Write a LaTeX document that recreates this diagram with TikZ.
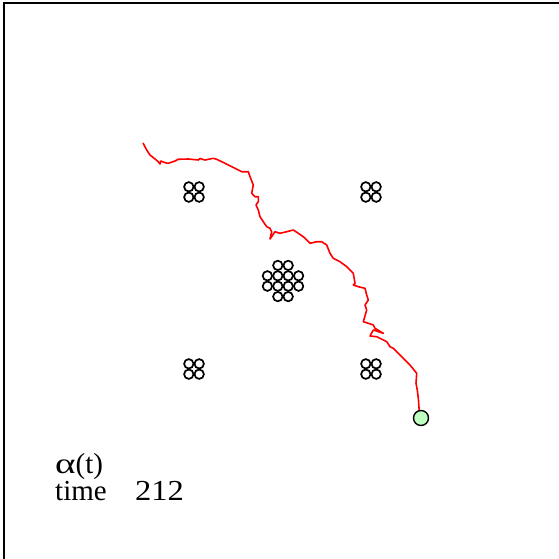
\documentclass[tikz,border=0pt]{standalone}
\usepackage{fontspec}
\setmainfont{Liberation Serif}
\begin{document}
\begin{tikzpicture}[x=1pt,y=-1pt,
  ring/.style={draw=black,line width=1.7pt},
  walk/.style={draw=red,line width=1.6pt,line join=round},
  lbl/.style={inner sep=0pt,anchor=base west,font=\fontsize{29}{29}\selectfont}]
\useasboundingbox (0,0) rectangle (559,559);
\clip (0,0) rectangle (559,559);
\fill[white] (0,0) rectangle (559,559);
\draw[line width=2pt] (4,620) -- (4,3) -- (620,3);
% four-ring clusters
\foreach \cx/\cy in {194/192,371/192,194/369,371/369}{
  \foreach \dx/\dy in {-5.2/-5.2,5.2/-5.2,-5.2/5.2,5.2/5.2}{
    \draw[ring] (\cx+\dx,\cy+\dy) circle (4.7);
  }
}
% central cluster
\foreach \dx/\dy in {-5.2/-15.6,5.2/-15.6,-15.6/-5.2,-5.2/-5.2,5.2/-5.2,15.6/-5.2,-15.6/5.2,-5.2/5.2,5.2/5.2,15.6/5.2,-5.2/15.6,5.2/15.6}{
  \draw[ring] (283+\dx,281+\dy) circle (4.7);
}
% random walk
\draw[walk] (143,143) -- (146.7,150) -- (150,155) -- (155,159) -- (158.3,161.7) -- (160,164) -- (161,161) -- (165,162.7) -- (168.3,163.3) -- (175,161) -- (178.3,159.3) -- (188.3,159) -- (198.3,160) -- (200,158.5) -- (205,160) -- (213.3,158.3) -- (216.7,159.3) -- (225,163.3) -- (235,168.3) -- (241.7,171.7) -- (248.3,171.7) -- (250,176.7) -- (253.3,185) -- (251.7,193.3) -- (255,196.7) -- (258.3,196.7) -- (258.3,201.7) -- (256,205) -- (258.3,210) -- (260,216.7) -- (263.3,221.7) -- (266.7,226.7) -- (270,228.3) -- (271.7,231.7) -- (270,239) -- (275,231.7) -- (280,233.3) -- (286.7,231.7) -- (293.3,230) -- (298.3,233.3) -- (303.3,236.7) -- (306.7,240) -- (310,243.3) -- (316.7,241.7) -- (321.7,241.7) -- (326.7,245) -- (330,253.3) -- (333.3,258.3) -- (340,261.7) -- (346.7,266.7) -- (353.3,273.3) -- (355,283.3) -- (353.3,285) -- (358.3,286.7) -- (365,288.3) -- (366.7,295) -- (368.3,300) -- (365,305) -- (366.7,310) -- (363.3,321.7) -- (368.3,323.3) -- (373.3,325) -- (375,328.3) -- (383.3,333.3) -- (373.3,330) -- (370,336) -- (376.7,336.7) -- (380,338.3) -- (386.7,341.7) -- (390,346.7) -- (393.3,348.3) -- (401.7,356.7) -- (410,365) -- (416.7,373.3) -- (416,383.3) -- (417.3,390) -- (418.3,398.3) -- (419.3,411.7) -- (420,418);
% current position
\node[circle,draw=black,line width=1.4pt,fill=green!25,minimum size=15pt,inner sep=0pt] (pos) at (421,418) {};
% labels
\node[lbl] (alpha) at (55,473) {\raisebox{0pt}[\height][0pt]{\scalebox{1.35}[1]{α}(t)}};
\node[lbl] (time) at (55,500) {\raisebox{0pt}[0.68em][\depth]{time}};
\node[lbl] (num) at (135,500) {\scalebox{1.12}[1]{212}};
\end{tikzpicture}
\end{document}
